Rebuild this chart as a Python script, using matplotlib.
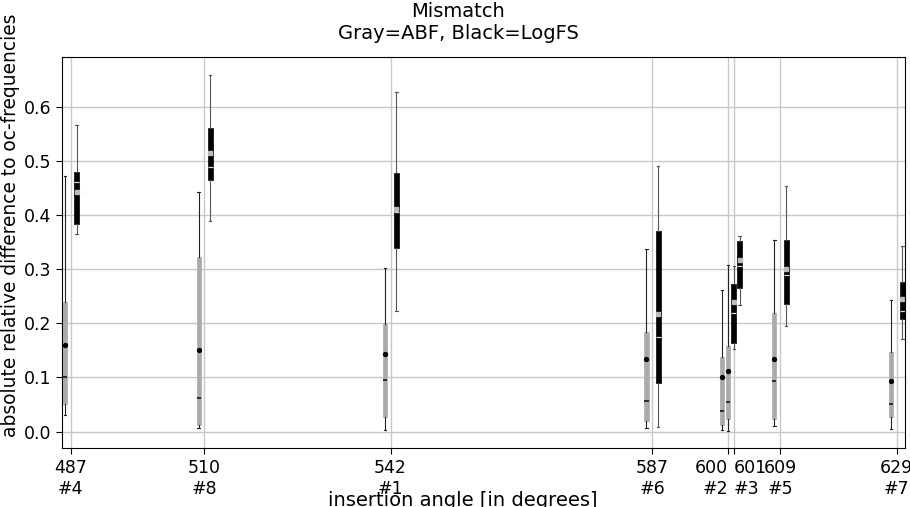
import matplotlib.pyplot as plt
from matplotlib.transforms import ScaledTranslation

angles = [487, 510, 542, 587, 600, 601, 609, 629]
ids = ['#4', '#8', '#1', '#6', '#2', '#3', '#5', '#7']

# ABF (gray)
abf_lo = [0.030, 0.006, 0.003, 0.006, 0.003, 0.001, 0.010, 0.004]
abf_q1 = [0.050, 0.012, 0.027, 0.020, 0.012, 0.024, 0.024, 0.026]
abf_med = [0.100, 0.061, 0.095, 0.056, 0.038, 0.055, 0.093, 0.051]
abf_q3 = [0.240, 0.322, 0.199, 0.184, 0.138, 0.157, 0.218, 0.147]
abf_hi = [0.472, 0.443, 0.301, 0.337, 0.261, 0.308, 0.354, 0.242]
abf_mean = [0.160, 0.150, 0.143, 0.133, 0.100, 0.112, 0.134, 0.093]

# LogFS (black)
lfs_lo = [0.364, 0.388, 0.223, 0.008, 0.152, 0.234, 0.195, 0.171]
lfs_q1 = [0.383, 0.464, 0.338, 0.090, 0.164, 0.265, 0.235, 0.207]
lfs_med = [0.460, 0.489, 0.405, 0.174, 0.219, 0.305, 0.289, 0.223]
lfs_q3 = [0.480, 0.561, 0.477, 0.370, 0.272, 0.351, 0.354, 0.276]
lfs_hi = [0.566, 0.659, 0.626, 0.491, 0.306, 0.361, 0.454, 0.343]
lfs_mean = [0.442, 0.515, 0.410, 0.217, 0.240, 0.316, 0.300, 0.244]


def stats(lo, q1, med, q3, hi, mean):
    return [dict(whislo=a, q1=b, med=c, q3=d, whishi=e, mean=f, fliers=[])
            for a, b, c, d, e, f in zip(lo, q1, med, q3, hi, mean)]


plt.rcParams['font.size'] = 13
fig = plt.figure(figsize=(9.1, 5.07), dpi=100)
ax = fig.add_axes([0.0678, 0.1158, 0.9267, 0.7712])
ax.grid(True, color='#c8c8c8', linewidth=1)
ax.set_axisbelow(True)

ax.bxp(stats(abf_lo, abf_q1, abf_med, abf_q3, abf_hi, abf_mean),
       positions=[a - 1 for a in angles], widths=0.7, capwidths=0.4,
       showmeans=True, patch_artist=True, manage_ticks=False,
       boxprops=dict(facecolor='#aaaaaa', edgecolor='#aaaaaa', linewidth=0.5),
       whiskerprops=dict(color='#222222', linewidth=0.8),
       capprops=dict(color='#222222', linewidth=0.8),
       medianprops=dict(color='#222222', linewidth=1.3),
       meanprops=dict(marker='o', markersize=2.8, markerfacecolor='black',
                      markeredgecolor='black'))

ax.bxp(stats(lfs_lo, lfs_q1, lfs_med, lfs_q3, lfs_hi, lfs_mean),
       positions=[a + 1 for a in angles], widths=0.85, capwidths=0.4,
       showmeans=True, patch_artist=True, manage_ticks=False,
       boxprops=dict(facecolor='black', edgecolor='black', linewidth=0.5),
       whiskerprops=dict(color='#555555', linewidth=0.8),
       capprops=dict(color='#555555', linewidth=0.8),
       medianprops=dict(color='#dddddd', linewidth=0.9),
       meanprops=dict(marker='s', markersize=2.5, markerfacecolor='#bbbbbb',
                      markeredgecolor='#bbbbbb'))

ax.set_xlim(485.45, 630.45)
ax.set_ylim(-0.031, 0.691)
ax.set_xticks(angles)
ax.set_xticklabels([f'{a}\n{i}' for a, i in zip(angles, ids)], fontsize=12.5)
tl = ax.get_xticklabels()
tl[4].set_ha('right')
tl[5].set_ha('left')
tl[5].set_transform(tl[5].get_transform() + ScaledTranslation(-2 / 72, 0, fig.dpi_scale_trans))
ax.set_yticks([0.0, 0.1, 0.2, 0.3, 0.4, 0.5, 0.6])
ax.tick_params(axis='y', labelsize=12.5)
ax.tick_params(length=4)
ax.set_xlabel('insertion angle [in degrees]', fontsize=14)
ax.xaxis.set_label_coords(0.475, -0.108)
ax.set_ylabel('absolute relative difference to oc-frequencies', fontsize=13.4)
ax.yaxis.set_label_coords(-0.049, 0.569)
ax.set_title('Mismatch\nGray=ABF, Black=LogFS', fontsize=14, pad=13, x=0.47)

fig.savefig('out.png', dpi=100)
